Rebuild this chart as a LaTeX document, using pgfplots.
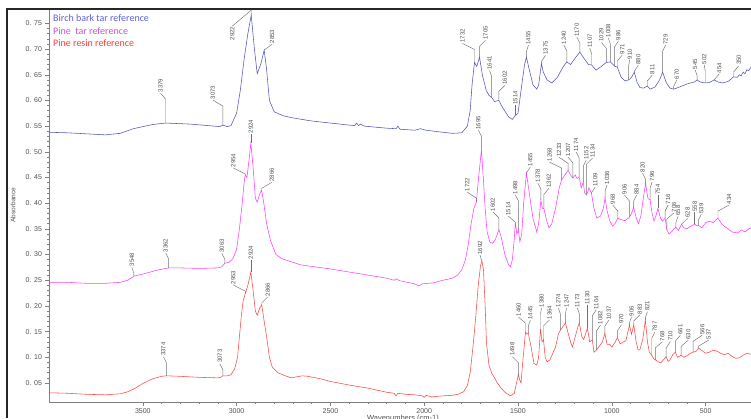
\documentclass[border=0pt]{standalone}
\usepackage{fontspec}
\setmainfont{Liberation Sans}
\newfontfamily\legfont{Carlito}
\usepackage{pgfplots}
\pgfplotsset{compat=1.18}
\usepackage{pgfplotstable}

\definecolor{birch}{RGB}{82,82,190}
\definecolor{pinetar}{RGB}{255,60,255}
\definecolor{resin}{RGB}{255,70,70}
\definecolor{lblgray}{RGB}{80,80,80}
\definecolor{ldrgray}{RGB}{110,110,110}

% wavenumber (cm^-1), absorbance
\pgfplotstableread{
w A
4000 0.538
3900 0.537
3800 0.535
3700 0.533
3620 0.536
3550 0.545
3450 0.553
3379 0.556
3250 0.554
3150 0.551
3090 0.549
3073 0.552
3050 0.549
3030 0.551
3000 0.575
2980 0.620
2960 0.680
2940 0.730
2922 0.766
2905 0.700
2890 0.652
2870 0.672
2853 0.698
2840 0.660
2825 0.600
2800 0.578
2750 0.570
2700 0.566
2650 0.563
2600 0.560
2500 0.556
2400 0.552
2370 0.551
2360 0.556
2350 0.551
2340 0.554
2320 0.550
2200 0.546
2150 0.545
2140 0.550
2130 0.544
2050 0.542
2020 0.545
1990 0.542
1900 0.538
1850 0.536
1800 0.537
1770 0.550
1755 0.580
1745 0.630
1732 0.674
1720 0.666
1705 0.684
1690 0.650
1670 0.620
1655 0.610
1641 0.606
1625 0.598
1602 0.600
1580 0.585
1550 0.568
1530 0.563
1514 0.571
1500 0.575
1480 0.630
1465 0.670
1455 0.684
1440 0.660
1420 0.630
1400 0.622
1390 0.630
1375 0.672
1365 0.655
1345 0.640
1320 0.634
1290 0.645
1260 0.665
1240 0.675
1220 0.670
1190 0.685
1170 0.694
1150 0.683
1125 0.670
1107 0.669
1085 0.659
1060 0.665
1029 0.674
1008 0.675
986 0.667
971 0.665
950 0.645
930 0.638
910 0.640
895 0.645
880 0.655
865 0.635
850 0.625
830 0.624
811 0.628
795 0.622
770 0.626
745 0.640
729 0.655
710 0.635
690 0.624
670 0.622
640 0.626
600 0.632
560 0.636
545 0.640
530 0.636
502 0.634
480 0.635
454 0.640
435 0.636
410 0.634
380 0.637
350 0.646
330 0.645
320 0.650
310 0.648
300 0.655
290 0.652
280 0.660
270 0.658
258 0.665
}\birchtable

\pgfplotstableread{
w A
4000 0.246
3900 0.246
3800 0.244
3700 0.244
3620 0.246
3580 0.250
3560 0.255
3548 0.258
3500 0.262
3420 0.270
3362 0.274
3300 0.274
3200 0.273
3100 0.274
3080 0.276
3063 0.283
3040 0.285
3020 0.292
3000 0.310
2985 0.350
2970 0.400
2960 0.440
2954 0.455
2945 0.450
2935 0.480
2924 0.517
2912 0.470
2900 0.410
2890 0.402
2875 0.420
2866 0.425
2855 0.400
2840 0.360
2820 0.328
2790 0.300
2760 0.292
2700 0.285
2660 0.280
2600 0.277
2500 0.272
2400 0.266
2300 0.260
2200 0.254
2160 0.250
2150 0.253
2130 0.249
2050 0.243
2030 0.239
2010 0.243
1950 0.245
1900 0.250
1850 0.254
1822 0.260
1800 0.270
1780 0.290
1765 0.320
1750 0.360
1735 0.390
1722 0.402
1710 0.450
1695 0.503
1685 0.450
1675 0.390
1665 0.345
1650 0.324
1635 0.322
1620 0.330
1602 0.348
1590 0.335
1570 0.300
1550 0.280
1540 0.276
1530 0.290
1520 0.330
1514 0.363
1506 0.340
1498 0.348
1490 0.325
1480 0.340
1470 0.400
1455 0.459
1440 0.420
1420 0.370
1400 0.344
1390 0.360
1378 0.406
1370 0.390
1362 0.390
1350 0.370
1335 0.352
1320 0.360
1300 0.390
1280 0.430
1268 0.445
1250 0.455
1233 0.464
1220 0.455
1207 0.449
1195 0.455
1185 0.448
1174 0.451
1163 0.430
1152 0.441
1145 0.420
1134 0.416
1122 0.430
1109 0.420
1095 0.390
1080 0.371
1060 0.375
1045 0.390
1036 0.410
1025 0.385
1010 0.365
995 0.355
980 0.362
968 0.371
950 0.368
930 0.366
915 0.370
906 0.373
895 0.380
884 0.392
870 0.372
858 0.360
845 0.375
832 0.410
820 0.439
808 0.410
796 0.406
785 0.380
775 0.365
765 0.375
754 0.390
740 0.370
730 0.365
716 0.371
706 0.348
695 0.340
680 0.345
670 0.350
658 0.353
645 0.347
628 0.359
615 0.352
600 0.350
580 0.355
558 0.359
550 0.356
539 0.357
520 0.352
500 0.362
480 0.365
460 0.362
434 0.371
415 0.360
400 0.355
380 0.350
360 0.344
330 0.342
310 0.348
290 0.344
270 0.350
258 0.352
}\pinetartable

\pgfplotstableread{
w A
4000 0.031
3900 0.030
3800 0.028
3700 0.027
3620 0.029
3580 0.033
3540 0.040
3500 0.049
3450 0.058
3400 0.063
3374 0.064
3300 0.063
3200 0.061
3100 0.060
3085 0.061
3073 0.064
3050 0.064
3030 0.066
3010 0.078
2995 0.100
2985 0.140
2975 0.180
2965 0.210
2953 0.225
2940 0.240
2924 0.266
2912 0.230
2900 0.190
2890 0.182
2878 0.195
2866 0.202
2855 0.175
2840 0.140
2825 0.100
2810 0.081
2780 0.070
2740 0.064
2710 0.060
2650 0.064
2620 0.063
2550 0.058
2500 0.053
2400 0.046
2300 0.040
2200 0.032
2160 0.030
2150 0.025
2140 0.030
2100 0.028
2050 0.027
2010 0.025
2000 0.022
1990 0.026
1960 0.023
1900 0.025
1850 0.026
1820 0.028
1790 0.033
1770 0.045
1755 0.070
1740 0.120
1725 0.180
1712 0.240
1700 0.278
1692 0.287
1684 0.270
1675 0.200
1668 0.128
1655 0.085
1640 0.069
1625 0.060
1610 0.050
1590 0.040
1570 0.032
1540 0.025
1520 0.030
1508 0.050
1498 0.066
1490 0.055
1484 0.050
1475 0.090
1460 0.149
1452 0.145
1445 0.147
1430 0.120
1415 0.088
1400 0.085
1390 0.100
1380 0.155
1372 0.130
1364 0.134
1355 0.100
1345 0.091
1330 0.095
1300 0.120
1285 0.145
1274 0.153
1260 0.160
1247 0.167
1235 0.150
1220 0.130
1210 0.120
1195 0.140
1180 0.160
1173 0.167
1160 0.140
1150 0.135
1140 0.145
1130 0.157
1118 0.130
1104 0.134
1095 0.110
1082 0.114
1070 0.120
1050 0.130
1037 0.147
1025 0.125
1010 0.125
1000 0.120
985 0.128
970 0.138
955 0.126
940 0.130
925 0.132
906 0.163
895 0.145
883 0.163
870 0.130
860 0.114
850 0.115
835 0.135
821 0.173
810 0.130
800 0.110
787 0.104
778 0.098
768 0.095
755 0.092
740 0.089
725 0.095
710 0.101
700 0.092
690 0.095
675 0.105
661 0.110
650 0.100
640 0.102
630 0.104
615 0.100
600 0.103
580 0.108
566 0.110
550 0.112
537 0.118
520 0.113
500 0.108
480 0.110
460 0.114
440 0.112
420 0.108
400 0.105
380 0.108
360 0.102
340 0.098
320 0.099
300 0.104
280 0.108
258 0.106
}\resintable

% peak annotation: wavenumber, absorbance, stem length, lean, text
\newcommand\pk[5]{\draw[ldr] (axis cs:#1,#2) -- ++(0pt,#3pt) -- ++(#4pt,6pt) node[lbl]{#5};}

\begin{document}
\begin{tikzpicture}[
  ldr/.style={draw=ldrgray, line width=0.45pt},
  lbl/.style={rotate=90, anchor=west, inner sep=0.6pt, text=lblgray, font=\fontsize{6}{6}\selectfont}]
\useasboundingbox (0,0) rectangle (751pt,418pt);
\begin{axis}[
  at={(49pt,16pt)}, anchor=south west,
  width=702pt, height=393pt, scale only axis,
  x dir=reverse,
  xmin=258, xmax=4000, ymin=0.013, ymax=0.778,
  clip=false,
  axis line style={draw=none},
  xtick={3500,3000,2500,2000,1500,1000,500},
  xticklabels={3500,3000,2500,2000,1500,1000,500},
  ytick={0.05,0.10,0.15,0.20,0.25,0.30,0.35,0.40,0.45,0.50,0.55,0.60,0.65,0.70,0.75},
  yticklabels={0. 05,0. 10,0. 15,0. 20,0. 25,0. 30,0. 35,0. 40,0. 45,0. 50,0. 55,0. 60,0. 65,0. 70,0. 75},
  minor x tick num=4, minor y tick num=4,
  xtick pos=bottom, ytick pos=left,
  tick align=outside,
  major tick length=3.5pt, minor tick length=2pt,
  tick style={draw=gray, line width=0.5pt},
  ticklabel style={text=lblgray, font=\fontsize{7}{8}\selectfont},
  xticklabel style={yshift=0.5pt},
  every axis plot/.append style={line width=0.55pt},
]
\addplot[birch, no marks] table[x=w, y=A] {\birchtable};
\addplot[pinetar, no marks] table[x=w, y=A] {\pinetartable};
\addplot[resin, no marks] table[x=w, y=A] {\resintable};

% Birch bark tar
\pk{3379}{0.556}{24}{-5}{3379}
\pk{3073}{0.552}{19}{-10}{3073}
\draw[ldr] (axis cs:2922,0.766) -- ++(0pt,5pt) -- ++(-19pt,-16pt) node[lbl, anchor=east]{2922};
\pk{2853}{0.698}{0}{8}{2853}
\pk{1732}{0.674}{13}{-12}{1732}
\pk{1705}{0.684}{11}{6}{1705}
\pk{1641}{0.606}{21}{-2}{1641}
\pk{1602}{0.600}{9}{6}{1602}
\pk{1514}{0.571}{4}{0}{1514}
\pk{1455}{0.684}{6}{2}{1455}
\pk{1375}{0.672}{2}{4}{1375}
\pk{1240}{0.675}{11}{-3}{1240}
\pk{1170}{0.694}{9}{-3}{1170}
\pk{1107}{0.669}{11}{-2}{1107}
\pk{1029}{0.674}{14}{-5}{1029}
\pk{1008}{0.675}{18}{-2}{1008}
\pk{986}{0.667}{19}{4}{986}
\pk{971}{0.665}{6}{5}{971}
\pk{910}{0.640}{14}{1}{910}
\pk{880}{0.655}{1}{4}{880}
\pk{811}{0.628}{5}{5}{811}
\pk{729}{0.655}{21}{3}{729}
\pk{670}{0.622}{3}{3}{670}
\pk{545}{0.640}{4}{-2}{545}
\pk{502}{0.634}{12}{-1}{502}
\pk{454}{0.640}{0}{5}{454}
\pk{350}{0.646}{5}{5}{350}

% Pine tar
\pk{3548}{0.258}{3}{-2}{3548}
\pk{3362}{0.274}{9}{-3}{3362}
\pk{3063}{0.283}{4}{-3}{3063}
\pk{2954}{0.455}{1}{-12}{2954}
\pk{2924}{0.517}{3}{0}{2924}
\pk{2866}{0.425}{2}{10}{2866}
\pk{1722}{0.402}{4}{-9}{1722}
\pk{1695}{0.503}{14}{-3}{1695}
\pk{1602}{0.348}{12}{-6}{1602}
\pk{1514}{0.363}{0}{-7}{1514}
\pk{1498}{0.348}{29}{-3}{1498}
\pk{1455}{0.459}{0}{4}{1455}
\pk{1378}{0.406}{11}{-3}{1378}
\pk{1362}{0.390}{14}{5}{1362}
\pk{1268}{0.445}{12}{-12}{1268}
\pk{1233}{0.464}{7}{-9}{1233}
\pk{1207}{0.449}{15}{-5}{1207}
\pk{1174}{0.451}{19}{-3}{1174}
\pk{1152}{0.441}{16}{3}{1152}
\pk{1134}{0.416}{31}{6}{1134}
\pk{1109}{0.420}{0}{4}{1109}
\pk{1036}{0.410}{7}{2}{1036}
\pk{968}{0.371}{7}{-5}{968}
\pk{906}{0.373}{16}{-5}{906}
\pk{884}{0.392}{6}{3}{884}
\pk{820}{0.439}{4}{-3}{820}
\pk{796}{0.406}{12}{2}{796}
\pk{754}{0.390}{7}{0}{754}
\pk{716}{0.371}{7}{3}{716}
\pk{706}{0.348}{11}{7}{706}
\pk{658}{0.353}{5}{2}{658}
\pk{628}{0.359}{0}{6}{628}
\pk{558}{0.359}{6}{0}{558}
\pk{539}{0.357}{5}{3}{539}
\pk{434}{0.371}{7}{11}{434}

% Pine resin
\pk{3374}{0.064}{13}{-3}{3374}
\pk{3073}{0.064}{6}{-3}{3073}
\pk{2953}{0.225}{2}{-12}{2953}
\pk{2924}{0.266}{6}{0}{2924}
\pk{2866}{0.202}{2}{6}{2866}
\pk{1692}{0.287}{0}{-2}{1692}
\pk{1498}{0.066}{12}{-6}{1498}
\pk{1460}{0.149}{9}{-7}{1460}
\pk{1445}{0.147}{7}{2}{1445}
\pk{1380}{0.155}{15}{1}{1380}
\pk{1364}{0.134}{14}{6}{1364}
\pk{1274}{0.153}{16}{-2}{1274}
\pk{1247}{0.167}{9}{1}{1247}
\pk{1173}{0.167}{9}{-2}{1173}
\pk{1130}{0.157}{17}{0}{1130}
\pk{1104}{0.134}{24}{4}{1104}
\pk{1082}{0.114}{19}{4}{1082}
\pk{1037}{0.147}{7}{4}{1037}
\pk{970}{0.138}{7}{4}{970}
\pk{906}{0.163}{2}{2}{906}
\pk{883}{0.163}{4}{6}{883}
\pk{821}{0.173}{2}{2}{821}
\pk{787}{0.104}{17}{3}{787}
\pk{768}{0.095}{12}{7}{768}
\pk{710}{0.101}{9}{4}{710}
\pk{661}{0.110}{11}{5}{661}
\pk{630}{0.104}{9}{7}{630}
\pk{566}{0.110}{11}{9}{566}
\pk{537}{0.118}{2}{10}{537}
\end{axis}

% axis lines and window frame
\draw[gray, line width=0.6pt] (49pt,409pt) -- (49pt,16pt) -- (751pt,16pt);
\draw[black!85, line width=1.5pt] (7pt,0pt) -- (7pt,409pt) -- (751pt,409pt);

% series names
\node[anchor=west, inner sep=0pt, text={rgb,255:red,95;green,95;blue,220}, font=\legfont\fontsize{10}{10}\selectfont] at (53pt,400pt) {Birch bark tar reference};
\node[anchor=west, inner sep=0pt, text={rgb,255:red,200;green,80;blue,215}, font=\legfont\fontsize{10}{10}\selectfont] at (53pt,387pt) {Pine\ \ tar reference};
\node[anchor=west, inner sep=0pt, text={rgb,255:red,255;green,55;blue,55}, font=\legfont\fontsize{10}{10}\selectfont] at (53pt,375pt) {Pine resin reference};

% axis titles
\node[rotate=90, text=lblgray, font=\fontsize{6.5}{7}\selectfont] at (13pt,213pt) {Absorbance};
\node[anchor=north, text=lblgray, font=\fontsize{7.5}{8}\selectfont, inner sep=0pt] at (403pt,3.5pt) {Wavenumbers (cm-1)};
\end{tikzpicture}
\end{document}
